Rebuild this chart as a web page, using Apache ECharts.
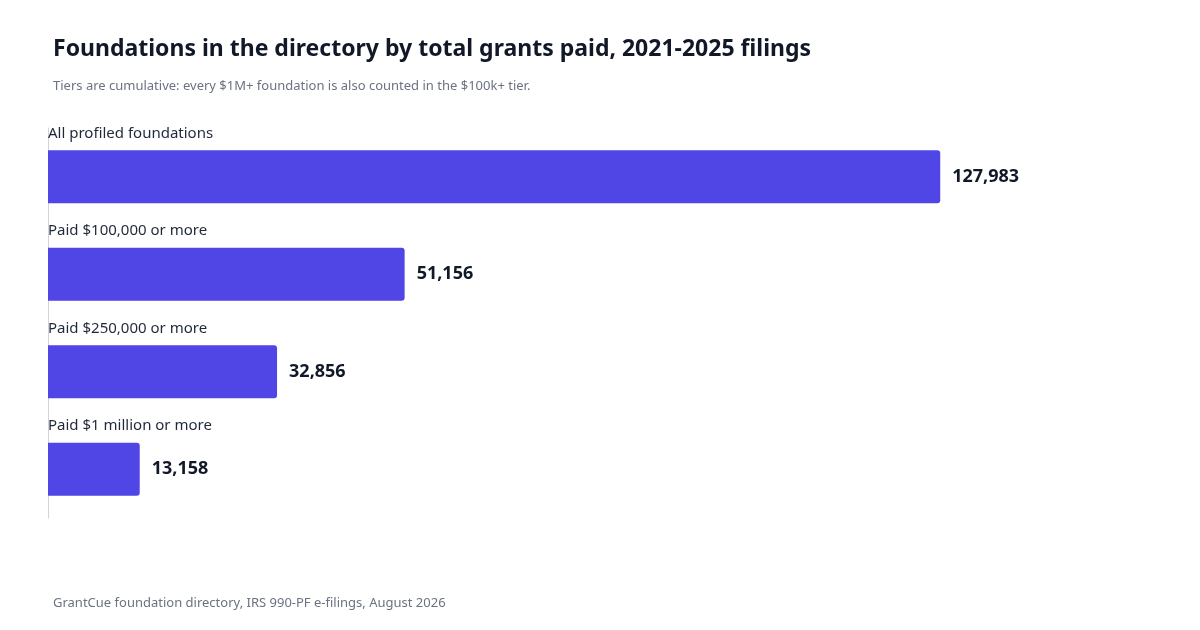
<!DOCTYPE html>
<html><head><meta charset="utf-8">
<script src="https://cdn.jsdelivr.net/npm/echarts@6/dist/echarts.min.js"></script>
<style>html,body{margin:0;padding:0;background:#fff}#c{width:1200px;height:630px}</style>
</head><body><div id="c"></div>
<script>
const categories = ["All profiled foundations","Paid $100,000 or more","Paid $250,000 or more","Paid $1 million or more"];
const values = [127983, 51156, 32856, 13158];
const F = '"Noto Sans", "Open Sans", sans-serif';
const chart = echarts.init(document.getElementById('c'));
chart.setOption({
  animation:false,
  title:[
    {text:'Foundations in the directory by total grants paid, 2021-2025 filings',left:48,top:33,textStyle:{fontFamily:F,fontSize:23,fontWeight:'bold',color:'#111827'}},
    {text:'Tiers are cumulative: every $1M+ foundation is also counted in the $100k+ tier.',left:48,top:75,textStyle:{fontFamily:F,fontSize:13,fontWeight:'normal',color:'#6b7280'}},
    {text:'GrantCue foundation directory, IRS 990-PF e-filings, August 2026',left:48,top:592,textStyle:{fontFamily:F,fontSize:13,fontWeight:'normal',color:'#6b7280'}}
  ],
  grid:{left:48,top:128,width:976,height:390},
  xAxis:{type:'value',min:0,max:140000,show:false},
  yAxis:{type:'category',inverse:true,data:categories,axisTick:{show:false},axisLabel:{show:false},
    axisLine:{show:true,lineStyle:{color:'#d1d5db'}}},
  series:[
    {type:'bar',data:values,barWidth:53,itemStyle:{color:'#5046e5',borderRadius:[0,3,3,0]},
     label:{show:true,position:'right',distance:12,formatter:p=>p.value.toLocaleString('en-US'),
       fontFamily:F,fontSize:18,fontWeight:'bold',color:'#111827'}},
    {type:'bar',data:values,barWidth:53,barGap:'-100%',itemStyle:{color:'rgba(0,0,0,0)'},
     label:{show:true,position:[0,-17],verticalAlign:'middle',align:'left',formatter:p=>p.name,
       fontFamily:F,fontSize:15,color:'#1f2937'}}
  ]
});
</script></body></html>
